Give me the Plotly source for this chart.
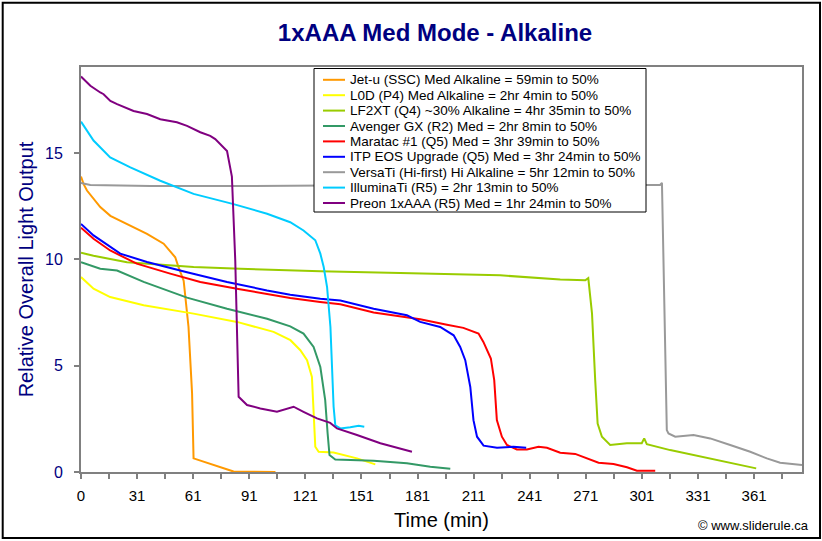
import plotly.graph_objects as go

# ---------------- data (time in minutes, relative output) ----------------
series_names = [
    "Jet-u (SSC) Med Alkaline = 59min to 50%",
    "L0D (P4) Med Alkaline = 2hr 4min to 50%",
    "LF2XT (Q4) ~30% Alkaline = 4hr 35min to 50%",
    "Avenger GX (R2) Med = 2hr 8min to 50%",
    "Maratac #1 (Q5) Med = 3hr 39min to 50%",
    "ITP EOS Upgrade (Q5) Med = 3hr 24min to 50%",
    "VersaTi (Hi-first) Hi Alkaline = 5hr 12min to 50%",
    "IlluminaTi (R5) = 2hr 13min to 50%",
    "Preon 1xAAA (R5) Med = 1hr 24min to 50%",
]
series_colors = ["#FF9900", "#FFFF00", "#99CC00", "#339966", "#FF0000",
                 "#0000FF", "#999999", "#00CCFF", "#800080"]

jetu_t = [0, 1.4, 3.2, 10.3, 15.7, 24.6, 35.3, 44.2, 50.4, 52.2, 54.9, 57.5, 59.4, 60.2, 65.6, 74.5, 81.6, 104]
jetu_v = [13.9, 13.54, 13.24, 12.46, 12.05, 11.67, 11.2, 10.74, 10.1, 9.62, 9.0, 6.82, 3.7, 0.64, 0.48, 0.25, 0.02, 0.0]

l0d_t = [0, 6.7, 15.6, 33.5, 60.2, 83.4, 103.0, 112.0, 117.3, 120.9, 123.5, 124.4, 125.3, 127.1, 135.1, 147.6, 157.4]
l0d_v = [9.17, 8.62, 8.23, 7.84, 7.45, 7.06, 6.59, 6.2, 5.73, 5.26, 4.47, 2.75, 1.19, 0.95, 0.92, 0.64, 0.36]

lf2xt_t = [0, 6.7, 24.6, 60.2, 85.2, 128.0, 170.7, 224.2, 256.3, 269.7, 271.3, 273.3, 275.0, 276.3,
           278.6, 283.0, 291.9, 299.9, 301.2, 302.6, 315.1, 327.6, 345.4, 361.1]
lf2xt_v = [10.31, 10.17, 9.87, 9.64, 9.56, 9.44, 9.36, 9.25, 9.06, 9.02, 9.12, 7.45, 4.32, 2.28,
           1.66, 1.27, 1.35, 1.35, 1.58, 1.31, 1.03, 0.8, 0.48, 0.17]

avenger_t = [0, 10.3, 19.3, 33.5, 56.7, 78.1, 99.5, 111.9, 119.0, 124.4, 128.0, 130.6, 131.9, 132.9,
             136.0, 156.5, 174.3, 186.8, 197.5]
avenger_v = [9.87, 9.56, 9.48, 8.94, 8.2, 7.68, 7.21, 6.85, 6.51, 5.88, 4.94, 3.38, 1.81, 0.8,
             0.59, 0.53, 0.41, 0.25, 0.15]

maratac_t = [0, 6.7, 15.6, 29.8, 47.7, 63.8, 83.4, 104.8, 111.9, 127.9, 138.7, 156.5, 174.3, 181.4,
             195.7, 204.5, 212.6, 215.2, 219.2, 221.0, 222.4, 225.1, 227.8, 233.1, 238.5, 244.7,
             249.2, 256.3, 264.3, 270.6, 276.8, 284.8, 292.0, 297.3, 307.1]
maratac_v = [11.49, 10.97, 10.42, 9.8, 9.33, 8.94, 8.62, 8.31, 8.18, 8.0, 7.89, 7.5, 7.29, 7.18,
             6.93, 6.78, 6.51, 6.12, 5.34, 4.32, 2.44, 1.66, 1.27, 1.06, 1.06, 1.19,
             1.14, 0.91, 0.85, 0.64, 0.44, 0.38, 0.22, 0.06, 0.06]

itp_t = [0, 6.7, 21.0, 35.3, 56.7, 78.1, 99.5, 111.9, 128.0, 138.7, 156.5, 174.3, 181.4, 192.1,
         199.3, 202.8, 205.5, 208.2, 209.9, 211.8, 215.3, 222.5, 231.3, 238.1]
itp_v = [11.67, 11.13, 10.27, 9.88, 9.4, 8.94, 8.54, 8.34, 8.15, 8.07, 7.68, 7.37, 7.06, 6.82,
         6.43, 5.88, 5.26, 4.0, 2.44, 1.66, 1.24, 1.14, 1.19, 1.14]

versati_t = [0, 5.0, 37.1, 90.5, 170.7, 250.9, 304.4, 309.7, 310.7, 311.5, 313.3, 314.2, 317.8,
             327.6, 336.5, 347.2, 357.9, 366.8, 373.9, 385.6]
versati_v = [13.6, 13.5, 13.45, 13.45, 13.5, 13.5, 13.5, 13.5, 13.6, 10.1, 1.97, 1.81, 1.66,
             1.74, 1.58, 1.27, 0.95, 0.64, 0.44, 0.33]

illuminati_t = [0, 6.7, 15.6, 26.4, 42.4, 60.2, 81.6, 99.5, 111.9, 119.0, 125.3, 128.0, 129.8,
                131.6, 133.4, 134.3, 135.1, 136.0, 138.7, 144.0, 148.5, 151.5]
illuminati_v = [16.48, 15.59, 14.8, 14.33, 13.7, 13.08, 12.6, 12.15, 11.75, 11.36, 10.9, 10.27, 9.64,
                8.7, 6.82, 4.94, 3.07, 2.2, 2.05, 2.1, 2.17, 2.13]

preon_t = [0, 5.0, 10.3, 12.1, 15.7, 19.3, 28.1, 35.3, 42.4, 51.3, 56.7, 63.8, 69.1, 71.8, 78.1,
           80.7, 82.5, 84.3, 88.8, 95.9, 104.8, 113.7, 119.0, 126.2, 133.3, 136.9, 147.6, 160.1, 177.0]
preon_v = [18.6, 18.17, 17.85, 17.77, 17.45, 17.3, 16.98, 16.84, 16.59, 16.45, 16.28, 15.98, 15.81, 15.66, 15.1,
           13.9, 9.95, 3.54, 3.15, 2.99, 2.83, 3.07, 2.83, 2.52, 2.31, 2.05, 1.74, 1.35, 0.95]

series_t = [jetu_t, l0d_t, lf2xt_t, avenger_t, maratac_t, itp_t, versati_t, illuminati_t, preon_t]
series_v = [jetu_v, l0d_v, lf2xt_v, avenger_v, maratac_v, itp_v, versati_v, illuminati_v, preon_v]

x_tick_labels = ["0", "31", "61", "91", "121", "151", "181", "211", "241", "271", "301", "331", "361"]
y_tick_values = [0, 5, 10, 15]

# ---------------- layout geometry ----------------
W, H = 822, 541
ML, MR, MT, MB = 81, 20, 67, 69
PW, PH = W - ML - MR, H - MT - MB
NAVY = "#000080"
AXIS_GREY = "#808080"
FONT = "Arial, Liberation Sans, sans-serif"


def px2x(px):
    return (px - ML) / PW


def py2y(py):
    return (H - MB - py) / PH


fig = go.Figure()
for name, color, t, v in zip(series_names, series_colors, series_t, series_v):
    fig.add_trace(go.Scatter(x=t, y=v, mode="lines", name=name,
                             line=dict(color=color, width=2), showlegend=False,
                             hoverinfo="skip"))

# x ticks every 15 min, labels every second tick
tick_vals = [i * 15 for i in range(2 * len(x_tick_labels))]
tick_text = []
for i in range(len(tick_vals)):
    tick_text.append(x_tick_labels[i // 2] if i % 2 == 0 else "")

shapes = []
annotations = []

# outer frame
shapes.append(dict(type="rect", xref="paper", yref="paper",
                   x0=px2x(2.7), x1=px2x(820), y0=py2y(538), y1=py2y(2.7),
                   line=dict(color="black", width=2), fillcolor="rgba(0,0,0,0)", layer="above"))

# legend box
LEG_L, LEG_R, LEG_T, LEG_B = 314, 646, 68.5, 212
ROW0, ROW_H = 79.8, 15.4
shapes.append(dict(type="rect", xref="paper", yref="paper",
                   x0=px2x(LEG_L), x1=px2x(LEG_R), y0=py2y(LEG_B), y1=py2y(LEG_T),
                   line=dict(color="black", width=1), fillcolor="white", layer="above"))
for i, (name, color) in enumerate(zip(series_names, series_colors)):
    ry = ROW0 + i * ROW_H
    shapes.append(dict(type="line", xref="paper", yref="paper",
                       x0=px2x(323), x1=px2x(345), y0=py2y(ry), y1=py2y(ry),
                       line=dict(color=color, width=2), layer="above"))
    annotations.append(dict(text=name, xref="paper", yref="paper",
                            x=px2x(348), y=py2y(ry), xanchor="left", yanchor="middle",
                            showarrow=False, font=dict(family=FONT, size=13.5, color="black")))

# copyright
annotations.append(dict(text="© www.sliderule.ca", xref="paper", yref="paper",
                        x=px2x(811), y=py2y(525), xanchor="right", yanchor="middle",
                        showarrow=False, font=dict(family=FONT, size=13, color="black")))

fig.update_layout(
    width=W, height=H,
    margin=dict(l=ML, r=MR, t=MT, b=MB),
    paper_bgcolor="white", plot_bgcolor="white",
    font=dict(family=FONT, color="black"),
    title=dict(text="1xAAA Med Mode - Alkaline", x=px2x(435), xref="paper", xanchor="center",
               y=1 - 33 / H, yref="container", yanchor="middle",
               font=dict(family=FONT, size=24, color=NAVY, weight="bold")),
    xaxis=dict(range=[0, 385.6], tickvals=tick_vals, ticktext=tick_text,
               ticks="outside", ticklen=5, tickwidth=1.5, tickcolor=AXIS_GREY,
               showline=True, linecolor=AXIS_GREY, linewidth=2, mirror=True,
               showgrid=False, zeroline=False, ticklabelstandoff=4,
               tickfont=dict(family=FONT, size=15, color="black"),
               title=dict(text="Time (min)", standoff=10,
                          font=dict(family=FONT, size=20, color="black"))),
    yaxis=dict(range=[0, 19.05], tickvals=y_tick_values,
               ticks="outside", ticklen=5, tickwidth=1.5, tickcolor=AXIS_GREY,
               showline=True, linecolor=AXIS_GREY, linewidth=2, mirror=True,
               showgrid=False, zeroline=False, ticklabelstandoff=8,
               tickfont=dict(family=FONT, size=16, color=NAVY),
               title=dict(text="Relative Overall Light Output", standoff=6,
                          font=dict(family=FONT, size=20, color=NAVY))),
    shapes=shapes,
    annotations=annotations,
)

fig.write_html("out.html", config={"displayModeBar": False},
               post_script="document.body.style.margin='0';document.body.style.padding='0';")
